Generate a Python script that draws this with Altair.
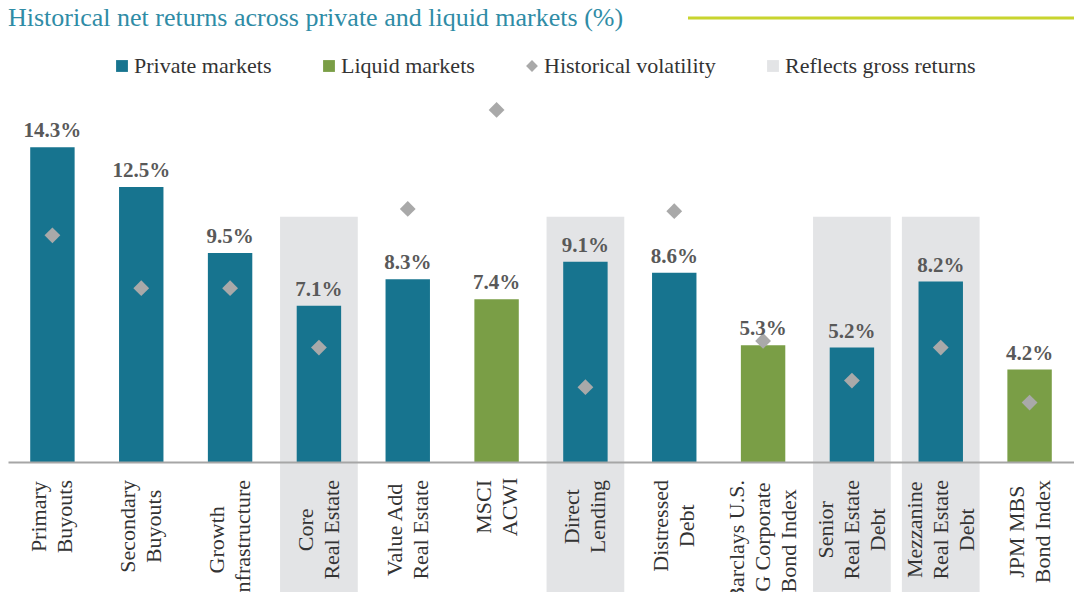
import altair as alt
import pandas as pd

# ---- data ----
categories = [
    "Primary\nBuyouts", "Secondary\nBuyouts", "Growth\nInfrastructure",
    "Core\nReal Estate", "Value Add\nReal Estate", "MSCI\nACWI",
    "Direct\nLending", "Distressed\nDebt",
    "Barclays U.S.\nIG Corporate\nBond Index", "Senior\nReal Estate\nDebt",
    "Mezzanine\nReal Estate\nDebt", "JPM MBS\nBond Index",
]
net_returns = [14.3, 12.5, 9.5, 7.1, 8.3, 7.4, 9.1, 8.6, 5.3, 5.2, 8.2, 4.2]
market_type = [
    "Private markets", "Private markets", "Private markets", "Private markets",
    "Private markets", "Liquid markets", "Private markets", "Private markets",
    "Liquid markets", "Private markets", "Private markets", "Liquid markets",
]
volatility = [10.3, 7.9, 7.9, 5.2, 11.5, 16.0, 3.4, 11.4, 5.5, 3.7, 5.2, 2.7]
gross_returns = [False, False, False, True, False, False, True, False, False, True, True, False]

legend_items = ["Private markets", "Liquid markets", "Historical volatility", "Reflects gross returns"]
legend_colors = ["#17748f", "#7a9e46", "#a9a9a9", "#e3e4e6"]
legend_shapes = ["square", "square", "diamond", "square"]
title_text = "Historical net returns across private and liquid markets (%)"
band_top = 11.15
y_max = 16.45

FONT = "Liberation Serif"
W, H = 1066, 362
LABEL_SIZE, LINE_H, LABEL_PAD = 22, 26, 18
STEP = W / len(categories)

# Approximate Times/Liberation Serif advance widths (1/1000 em): used to keep the
# top of each rotated, centre-aligned category label just under the axis line.
_w = {"P": 556, "r": 333, "i": 278, "m": 778, "a": 444, "y": 500, "B": 667, "u": 500,
      "o": 500, "t": 278, "s": 389, "S": 556, "e": 444, "c": 444, "n": 500, "d": 500,
      "G": 722, "w": 722, "h": 500, "I": 333, "f": 333, "E": 611, "l": 278, "C": 667,
      "R": 667, "V": 722, "A": 722, "M": 889, "D": 722, "L": 611, "g": 500, "T": 611,
      "b": 500, "J": 389, "U": 722, ".": 250, " ": 250, "z": 444, "x": 500, "p": 500}


def _width_px(s):
    return sum(_w.get(ch, 500) for ch in s) * LABEL_SIZE / 1000.0


rows = []
for c in categories:
    lines = c.split("\n")
    widest = max(_width_px(t) for t in lines)
    n = len(lines)
    for i, t in enumerate(lines):
        rows.append({
            "category": c,
            "line": t,
            "ypix": H + LABEL_PAD + widest / 2,
            "off": STEP / 2 + (i - (n - 1) / 2) * LINE_H,
        })
label_df = pd.DataFrame(rows)

df = pd.DataFrame({
    "category": categories,
    "ret": net_returns,
    "series": market_type,
    "vol": volatility,
    "gross": gross_returns,
})
df["label"] = [f"{v:.1f}%" for v in net_returns]

x_enc = alt.X(
    "category:N", sort=categories,
    scale=alt.Scale(paddingInner=0, paddingOuter=0),
    axis=alt.Axis(
        title=None, labels=False, ticks=False, domainColor="#a6a6a6",
        domainWidth=2, zindex=1,
    ),
)
y_scale = alt.Scale(domain=[0, y_max])

leg = alt.Legend(
    title=None, orient="none", legendX=103, legendY=-45,
    direction="horizontal", columns=4, columnPadding=46,
    labelFont=FONT, labelFontSize=22, labelColor="#333333", labelLimit=400,
    labelOffset=1, symbolStrokeWidth=0, symbolSize=140,
)
color_enc = alt.Color("series:N", scale=alt.Scale(domain=legend_items, range=legend_colors), legend=leg)

base = alt.Chart(df).encode(x=x_enc)

bands = base.transform_filter("datum.gross").transform_calculate(
    series=f"'{legend_items[3]}'"
).mark_bar(width=alt.RelativeBandSize(0.875), clip=False).encode(
    y=alt.Y(datum=band_top, scale=y_scale, axis=None),
    y2=alt.value(H + 140),
    color=color_enc,
)

bars = base.mark_bar(width=alt.RelativeBandSize(0.5)).encode(
    y=alt.Y("ret:Q", scale=y_scale, axis=None),
    color=color_enc,
)

points = base.transform_calculate(
    series=f"'{legend_items[2]}'"
).mark_point(filled=True, opacity=1, size=250).encode(
    y=alt.Y("vol:Q", scale=y_scale, axis=None),
    color=color_enc,
    shape=alt.Shape("series:N", scale=alt.Scale(domain=legend_items, range=legend_shapes), legend=leg),
)

labels = base.mark_text(
    dy=-10, baseline="alphabetic", font=FONT, fontSize=21, fontWeight="bold", color="#595959"
).encode(
    y=alt.Y("ret:Q", scale=y_scale, axis=None),
    text="label:N",
)

cat_labels = alt.Chart(label_df).mark_text(
    angle=270, align="center", baseline="middle", font=FONT,
    fontSize=LABEL_SIZE, color="#333333", clip=False,
).encode(
    x=alt.X("category:N", sort=categories),
    xOffset=alt.XOffset("off:Q", scale=None),
    y=alt.Y("ypix:Q", scale=None),
    text="line:N",
)

rule = alt.Chart(pd.DataFrame({"k": [0]})).mark_rule(color="#c8d42e", strokeWidth=3).encode(
    x=alt.value(680), x2=alt.value(W), y=alt.value(-82)
)

chart = alt.layer(bands, bars, points, labels, cat_labels, rule).properties(
    width=W, height=H,
    title=alt.TitleParams(
        text=title_text, anchor="start", frame="group", font=FONT, fontSize=26,
        fontWeight="normal", color="#2f8ca6", baseline="alphabetic", offset=-35,
    ),
    autosize=alt.AutoSizeParams(type="none"),
    padding={"left": 0, "top": 92, "right": 0, "bottom": 130},
).configure_view(stroke=None)

chart.save("out.html", embed_options={"renderer": "svg", "actions": False})
